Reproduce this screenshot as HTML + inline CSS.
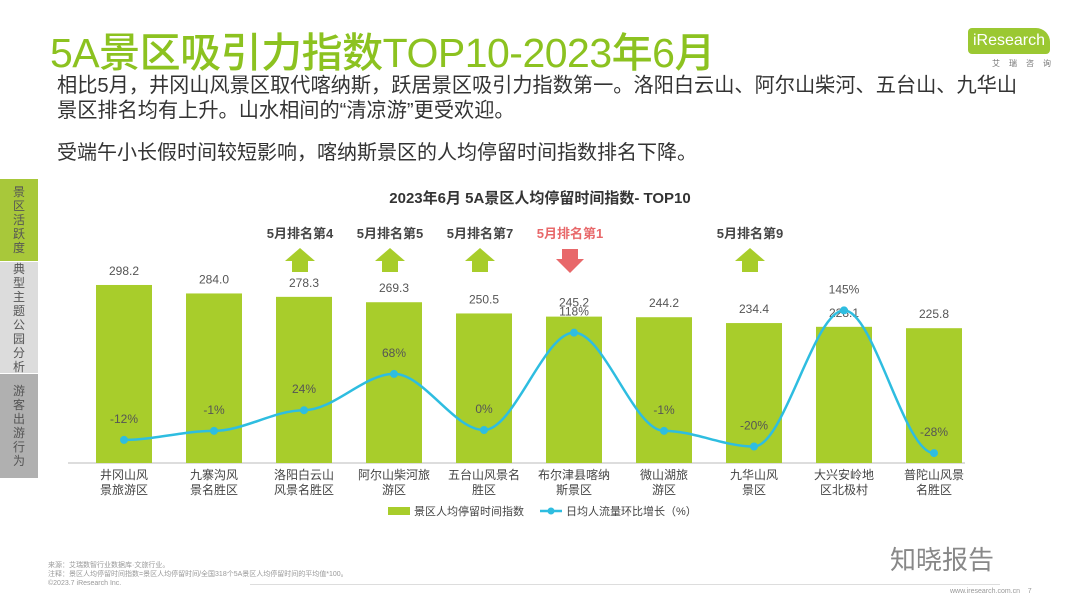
<!DOCTYPE html>
<html><head><meta charset="utf-8"><style>
body{margin:0;width:1080px;height:608px;background:#fff;overflow:hidden;position:relative;font-family:"Liberation Sans","Noto Sans CJK SC",sans-serif}
.abs{position:absolute}
.tab{position:absolute;left:0;width:38px;color:#555;font-size:12px;line-height:14px;text-align:center;display:flex;flex-direction:column;justify-content:center}
</style></head><body>
<div class="abs" style="left:50px;top:19px;font-size:41px;color:#8cc220;font-weight:500;letter-spacing:-0.5px">5A景区吸引力指数TOP10-2023年6月</div>
<div class="abs" style="left:968px;top:28px;width:82px;height:26px;background:#9bc832;border-radius:4px 14px 4px 4px;color:#fff;font-size:16px;line-height:26px;text-align:center">iResearch</div>
<div class="abs" style="left:992px;top:58px;font-size:8px;color:#777;letter-spacing:9px">艾瑞咨询</div>
<div class="abs" style="left:57px;top:74px;width:975px;font-size:20.2px;line-height:25px;color:#333">相比5月，井冈山风景区取代喀纳斯，跃居景区吸引力指数第一。洛阳白云山、阿尔山柴河、五台山、九华山景区排名均有上升。山水相间的“清凉游”更受欢迎。</div>
<div class="abs" style="left:57px;top:136px;font-size:20px;color:#333">受端午小长假时间较短影响，喀纳斯景区的人均停留时间指数排名下降。</div>
<div class="tab" style="top:179px;height:82px;background:#a8c83a">景<br>区<br>活<br>跃<br>度</div>
<div class="tab" style="top:262px;height:111px;background:#dcdcdc">典<br>型<br>主<br>题<br>公<br>园<br>分<br>析</div>
<div class="tab" style="top:374px;height:104px;background:#b0b0b0">游<br>客<br>出<br>游<br>行<br>为</div>
<svg class="abs" style="left:0;top:0" width="1080" height="608" id="chart"></svg>
<div class="abs" style="left:48px;top:561px;font-size:7px;color:#999;line-height:9px">来源：艾瑞数智行业数据库·文旅行业。<br>注释：景区人均停留时间指数=景区人均停留时间/全国318个5A景区人均停留时间的平均值*100。<br>©2023.7 iResearch Inc.</div>
<div class="abs" style="left:890px;top:540px;font-size:26px;color:#888">知晓报告</div>
<div class="abs" style="left:250px;top:584px;width:750px;height:1px;background:#ddd"></div>
<div class="abs" style="left:950px;top:588px;font-size:7px;color:#999">www.iresearch.com.cn &nbsp;&nbsp;&nbsp;7</div>
<script>
const categories=[["井冈山风","景旅游区"],["九寨沟风","景名胜区"],["洛阳白云山","风景名胜区"],["阿尔山柴河旅","游区"],["五台山风景名","胜区"],["布尔津县喀纳","斯景区"],["微山湖旅","游区"],["九华山风","景区"],["大兴安岭地","区北极村"],["普陀山风景","名胜区"]];
const stayIndex=[298.2,284.0,278.3,269.3,250.5,245.2,244.2,234.4,228.1,225.8];
const flowGrowth=[-12,-1,24,68,0,118,-1,-20,145,-28];
const mayRank=[null,null,4,5,7,1,null,9,null,null];
const mayDir=[null,null,"up","up","up","down",null,"up",null,null];
const NS="http://www.w3.org/2000/svg",svg=document.getElementById('chart');
function mk(t,a,txt){const e=document.createElementNS(NS,t);for(const k in a)e.setAttribute(k,a[k]);if(txt!=null)e.textContent=txt;svg.appendChild(e);return e;}
const x0=124,step=90,base=463;
const xs=i=>x0+i*step, yb=v=>base-v*0.597, yl=v=>430-v*0.825;
let t=mk('text',{x:540,y:203,'text-anchor':'middle','font-size':15,'font-weight':'bold',fill:'#333'},'2023年6月 5A景区人均停留时间指数- TOP10');

let ax=mk('line',{x1:68,x2:965,y1:base,y2:base,stroke:'#bbb'});

stayIndex.forEach((v,i)=>{
 let r=mk('rect',{x:xs(i)-28,y:yb(v),width:56,height:base-yb(v),fill:'#a8cd2b'});
 
 let l=mk('text',{x:xs(i),y:yb(v)-10,'text-anchor':'middle','font-size':12,fill:'#555'},v.toFixed(1));
 
 categories[i].forEach((s,j)=>{let c=mk('text',{x:xs(i),y:479+j*15,'text-anchor':'middle','font-size':12,fill:'#444'},s);
  });
 if(mayRank[i]!=null){
  const red=mayDir[i]==='down',col=red?'#e8686a':'#a8cd2b',cx=xs(i)-4;
  let rl=mk('text',{x:cx,y:238,'text-anchor':'middle','font-size':13,'font-weight':'bold',fill:red?'#e8686a':'#444'},'5月排名第'+mayRank[i]);
  
  let p=red?`${cx-8},249 ${cx+8},249 ${cx+8},259 ${cx+14},259 ${cx},273 ${cx-14},259 ${cx-8},259`:`${cx},248 ${cx+15},261 ${cx+8},261 ${cx+8},272 ${cx-8},272 ${cx-8},261 ${cx-15},261`;
  let ar=mk('polygon',{points:p,fill:col});
  
 }
});
let d='';
for(let i=0;i<flowGrowth.length;i++){
 const x=xs(i),y=yl(flowGrowth[i]);
 if(i===0)d=`M${x},${y}`;else{const px=xs(i-1),py=yl(flowGrowth[i-1]);d+=` C${px+30},${py} ${x-30},${y} ${x},${y}`;}
}
let ln=mk('path',{d:d,fill:'none',stroke:'#2ebde0','stroke-width':2.5});

flowGrowth.forEach((v,i)=>{
 let c=mk('circle',{cx:xs(i),cy:yl(v),r:4,fill:'#2ebde0'});
 
 let l=mk('text',{x:xs(i),y:yl(v)-17,'text-anchor':'middle','font-size':12,fill:'#555'},v+'%');
 
});
let lg1=mk('rect',{x:388,y:507,width:22,height:8,fill:'#a8cd2b'});

let lt1=mk('text',{x:414,y:515,'font-size':11,fill:'#444'},'景区人均停留时间指数');

let lg2=mk('line',{x1:540,x2:562,y1:511,y2:511,stroke:'#2ebde0','stroke-width':2.5});

let lg3=mk('circle',{cx:551,cy:511,r:3.5,fill:'#2ebde0'});

let lt2=mk('text',{x:566,y:515,'font-size':11,fill:'#444'},'日均人流量环比增长（%）');

</script>
</body></html>
